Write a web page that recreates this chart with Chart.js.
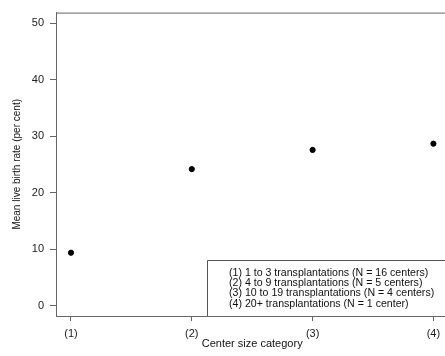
<!DOCTYPE html>
<html>
<head>
<meta charset="utf-8">
<script src="https://cdn.jsdelivr.net/npm/chart.js@4/dist/chart.umd.min.js"></script>
<style>
	html, body { margin: 0; padding: 0; background: #fff; overflow: hidden; }
	#wrap { width: 452px; height: 356px; }
</style>
</head>
<body>
<div id="wrap"><canvas id="birthRate" width="452" height="356"></canvas></div>
<script>
const categories = [1, 2, 3, 4];
const categoryLabels = ['(1)', '(2)', '(3)', '(4)'];
const meanBirthRate = [9.4, 24.2, 27.6, 28.7];
const yTicks = [0, 10, 20, 30, 40, 50];
const legendLines = [
	'(1) 1 to 3 transplantations (N = 16 centers)',
	'(2) 4 to 9 transplantations (N = 5 centers)',
	'(3) 10 to 19 transplantations (N = 4 centers)',
	'(4) 20+ transplantations (N = 1 center)'
];

const axisColor = '#666';
const textColor = '#222';
const font = "Liberation Sans, Arial, sans-serif";

// frame around the plot region plus the boxed note in the lower right
const framePlugin = {
	id: 'frame',
	afterDraw(chart) {
		const ctx = chart.ctx;
		const a = chart.chartArea;
		ctx.save();
		ctx.strokeStyle = axisColor;
		ctx.lineWidth = 1;
		ctx.strokeRect(a.left + 0.5, a.top + 0.5, a.right - a.left, a.bottom - a.top);

		const boxLeft = 207, boxTop = 260;
		ctx.strokeStyle = '#555';
		ctx.beginPath();
		ctx.moveTo(a.right + 10, boxTop + 0.5);
		ctx.lineTo(boxLeft + 0.5, boxTop + 0.5);
		ctx.lineTo(boxLeft + 0.5, a.bottom);
		ctx.stroke();

		ctx.fillStyle = '#111';
		ctx.font = '10.6px ' + font;
		ctx.textBaseline = 'middle';
		ctx.textAlign = 'left';
		legendLines.forEach((line, i) => {
			ctx.fillText(line, 229, 273 + i * 10.2);
		});
		ctx.restore();
	}
};

new Chart(document.getElementById('birthRate'), {
	type: 'scatter',
	data: {
		datasets: [{
			data: categories.map((c, i) => ({ x: c, y: meanBirthRate[i] })),
			backgroundColor: '#000',
			borderColor: '#000',
			pointRadius: 2.6,
			pointHoverRadius: 2.6
		}]
	},
	options: {
		responsive: false,
		animation: false,
		layout: { padding: { top: 12, right: 3, left: 0, bottom: 0 } },
		plugins: { legend: { display: false }, tooltip: { enabled: false } },
		scales: {
			x: {
				type: 'linear',
				min: 0.876,
				max: 4.124,
				afterFit(scale) { scale.height = 40; },
				afterBuildTicks(scale) {
					scale.ticks = categories.map(v => ({ value: v }));
				},
				ticks: {
					color: textColor,
					font: { family: font, size: 11 },
					padding: 6,
					maxRotation: 0,
					callback: v => categoryLabels[categories.indexOf(v)]
				},
				grid: { drawOnChartArea: false, tickLength: 5, color: axisColor },
				border: { color: axisColor },
				title: {
					display: true,
					text: 'Center size category',
					color: '#111',
					font: { family: font, size: 11 },
					padding: { top: 0, bottom: 5 }
				}
			},
			y: {
				min: -1.8,
				max: 51.9,
				afterFit(scale) { scale.width = 56; },
				afterBuildTicks(scale) {
					scale.ticks = yTicks.map(v => ({ value: v }));
				},
				ticks: {
					color: textColor,
					font: { family: font, size: 11 },
					padding: 6
				},
				grid: { drawOnChartArea: false, tickLength: 6, color: axisColor },
				border: { color: axisColor },
				title: {
					display: true,
					text: 'Mean live birth rate (per cent)',
					color: '#111',
					font: { family: font, size: 10 },
					padding: { top: 11, bottom: 0 }
				}
			}
		}
	},
	plugins: [framePlugin]
});
</script>
</body>
</html>
